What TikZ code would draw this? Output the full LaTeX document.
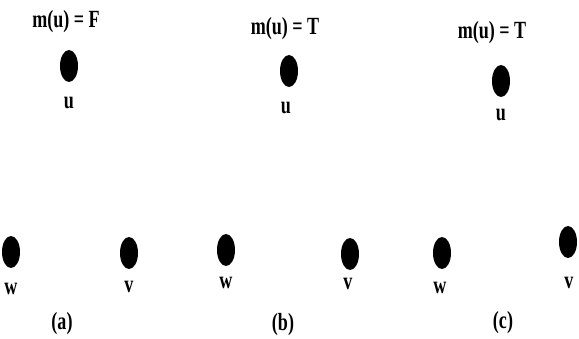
\documentclass[tikz,border=0pt]{standalone}
\usepackage{fontspec}
\setmainfont{Liberation Serif}
\usetikzlibrary{shapes.geometric}
\newcommand{\lbl}[1]{\scalebox{0.95}[1.3]{\bfseries #1}}
\begin{document}
\begin{tikzpicture}[x=1pt, y=-1pt,
		vert/.style={ellipse, fill=black, inner sep=0pt, minimum width=18pt, minimum height=32pt},
		vlabel/.style={font=\fontsize{19}{23}\selectfont, inner sep=0pt},
		sublabel/.style={font=\fontsize{19}{23}\selectfont, inner sep=0pt}]
				\useasboundingbox (0, 0) rectangle (579, 339);
				% (a)
				\node[vlabel] (ma) at (66, 22) {\lbl{m(u) = F}};
				\node[vert] (ua) at (69, 66) {};
				\node[vlabel] (lua) at (69, 103) {\lbl{u}};
				\node[vert] (wa) at (11, 252) {};
				\node[vlabel] (lwa) at (11, 289) {\lbl{w}};
				\node[vert] (va) at (129, 253) {};
				\node[vlabel] (lva) at (129, 287) {\lbl{v}};
				\node[sublabel] (capa) at (62, 324) {\lbl{(a)}};
				% (b)
				\node[vlabel] (mb) at (285, 29) {\lbl{m(u) = T}};
				\node[vert] (ub) at (289, 71) {};
				\node[vlabel] (lub) at (286, 108) {\lbl{u}};
				\node[vert] (wb) at (226, 250) {};
				\node[vlabel] (lwb) at (226, 283) {\lbl{w}};
				\node[vert] (vb) at (350, 254) {};
				\node[vlabel] (lvb) at (348, 284) {\lbl{v}};
				\node[sublabel] (capb) at (283, 325) {\lbl{(b)}};
				% (c)
				\node[vlabel] (mc) at (492, 33) {\lbl{m(u) = T}};
				\node[vert] (uc) at (501, 81) {};
				\node[vlabel] (luc) at (501, 115) {\lbl{u}};
				\node[vert] (wc) at (442, 253) {};
				\node[vlabel] (lwc) at (440, 288) {\lbl{w}};
				\node[vert] (vc) at (568, 242) {};
				\node[vlabel] (lvc) at (569, 283) {\lbl{v}};
				\node[sublabel] (capc) at (503, 323) {\lbl{(c)}};
			\end{tikzpicture}
\end{document}
